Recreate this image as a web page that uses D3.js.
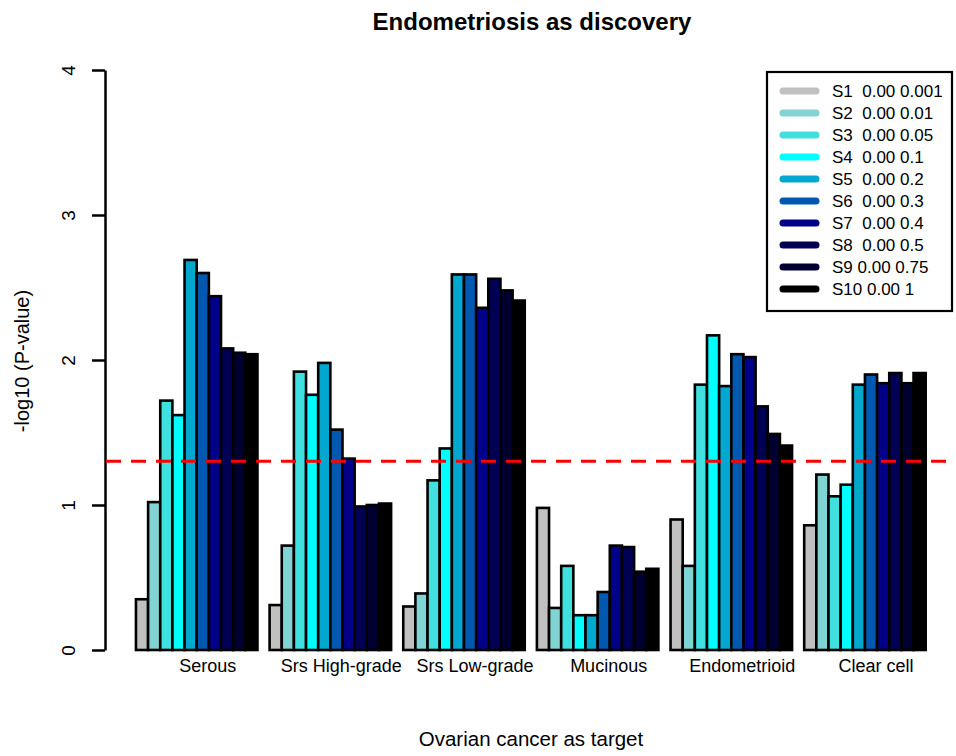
<!DOCTYPE html>
<html>
<head>
<meta charset="utf-8">
<script src="https://cdn.jsdelivr.net/npm/d3@7"></script>
<style>
  body { margin: 0; background: #fff; }
  text { font-family: "Liberation Sans", Arial, sans-serif; fill: #000; }
</style>
</head>
<body>
<svg id="chart" width="956" height="756"></svg>
<script>
// categories (ovarian cancer subtypes)
var groups = ["Serous", "Srs High-grade", "Srs Low-grade", "Mucinous", "Endometrioid", "Clear cell"]
var seriesNames = ["S1", "S2", "S3", "S4", "S5", "S6", "S7", "S8", "S9", "S10"]
var legendLabels = ["S1  0.00 0.001", "S2  0.00 0.01", "S3  0.00 0.05", "S4  0.00 0.1", "S5  0.00 0.2",
  "S6  0.00 0.3", "S7  0.00 0.4", "S8  0.00 0.5", "S9 0.00 0.75", "S10 0.00 1"]
var colors = ["#c0c0c0", "#80d4d4", "#40e0e0", "#00ffff", "#00a8d0", "#0058b0", "#000088", "#000055", "#000030", "#000000"]

// -log10(p) per group, one value per series S1..S10
var serous      = [0.35, 1.02, 1.72, 1.62, 2.69, 2.60, 2.44, 2.08, 2.05, 2.04]
var highGrade   = [0.31, 0.72, 1.92, 1.76, 1.98, 1.52, 1.32, 0.99, 1.00, 1.01]
var lowGrade    = [0.30, 0.39, 1.17, 1.39, 2.59, 2.59, 2.36, 2.56, 2.48, 2.41]
var mucinous    = [0.98, 0.29, 0.58, 0.24, 0.24, 0.40, 0.72, 0.71, 0.54, 0.56]
var endometrioid= [0.90, 0.58, 1.83, 2.17, 1.82, 2.04, 2.02, 1.68, 1.49, 1.41]
var clearCell   = [0.86, 1.21, 1.06, 1.14, 1.83, 1.90, 1.84, 1.91, 1.84, 1.91]
var values = [serous, highGrade, lowGrade, mucinous, endometrioid, clearCell]

var yTicks = [0, 1, 2, 3, 4]
var threshold = -Math.log10(0.05)

var svg = d3.select("#chart")

// barplot units: each bar 1 unit, 1 unit space before each group
var perGroup = seriesNames.length + 1
var x = d3.scaleLinear()
    .domain([0, groups.length * perGroup])
    .range([123.8, 123.8 + groups.length * perGroup * 12.15])
var y = d3.scaleLinear().domain([0, 4]).range([650, 70])

// title
svg.append("text")
  .attr("x", 532).attr("y", 30)
  .attr("text-anchor", "middle")
  .style("font-size", "24px").style("font-weight", "bold")
  .text("Endometriosis as discovery")

// bars
var data = []
values.forEach(function(arr, g) {
  arr.forEach(function(v, i) {
    data.push({g: g, i: i, v: v})
  })
})

svg.append("g").selectAll("rect")
  .data(data)
  .enter().append("rect")
    .attr("x", d => x(d.g * perGroup + 1 + d.i))
    .attr("width", d => x(1) - x(0))
    .attr("y", d => y(d.v))
    .attr("height", d => y(0) - y(d.v))
    .attr("fill", d => colors[d.i])
    .attr("stroke", "#000")
    .attr("stroke-width", 2.6)

// group labels
svg.append("g").selectAll("text")
  .data(groups)
  .enter().append("text")
    .attr("x", (d, g) => x(g * perGroup + 1 + seriesNames.length / 2) + 11)
    .attr("y", 672)
    .attr("text-anchor", "middle")
    .style("font-size", "18px")
    .text(d => d)

// y axis
var yAxis = d3.axisLeft(y).tickValues(yTicks).tickSize(13).tickSizeOuter(0).tickFormat(d3.format("d"))
var ga = svg.append("g")
  .attr("transform", "translate(105,0)")
  .call(yAxis)
ga.select(".domain").attr("stroke-width", 2.5)
ga.selectAll(".tick line").attr("stroke-width", 2.5)
ga.selectAll(".tick text")
  .attr("x", 0).attr("y", 0).attr("dy", null)
  .attr("text-anchor", "middle")
  .attr("transform", "translate(-35,0)rotate(-90)")
  .attr("dominant-baseline", "middle")
  .style("font-size", "19px")

// axis titles
svg.append("text")
  .attr("transform", "translate(29,361)rotate(-90)")
  .attr("text-anchor", "middle")
  .style("font-size", "20px")
  .text("-log10 (P-value)")

svg.append("text")
  .attr("x", 531).attr("y", 746)
  .attr("text-anchor", "middle")
  .style("font-size", "20.5px")
  .text("Ovarian cancer as target")

// significance line
svg.append("line")
  .attr("x1", 106).attr("x2", 950)
  .attr("y1", y(threshold)).attr("y2", y(threshold))
  .attr("stroke", "#ff0000")
  .attr("stroke-width", 3)
  .attr("stroke-dasharray", "15,10")

// legend
var lg = svg.append("g")
lg.append("rect")
  .attr("x", 767).attr("y", 72).attr("width", 185).attr("height", 239)
  .attr("fill", "#fff").attr("stroke", "#000").attr("stroke-width", 2.2)

var items = lg.selectAll(".item")
  .data(legendLabels)
  .enter().append("g")
    .attr("class", "item")
    .attr("transform", (d, i) => "translate(0," + (91 + i * 22) + ")")
items.append("line")
  .attr("x1", 783).attr("x2", 816)
  .attr("stroke", (d, i) => colors[i])
  .attr("stroke-width", 7)
  .attr("stroke-linecap", "round")
items.append("text")
  .attr("x", 832).attr("dy", "0.35em")
  .style("font-size", "17px")
  .style("white-space", "pre")
  .attr("xml:space", "preserve")
  .text(d => d)
</script>
</body>
</html>
